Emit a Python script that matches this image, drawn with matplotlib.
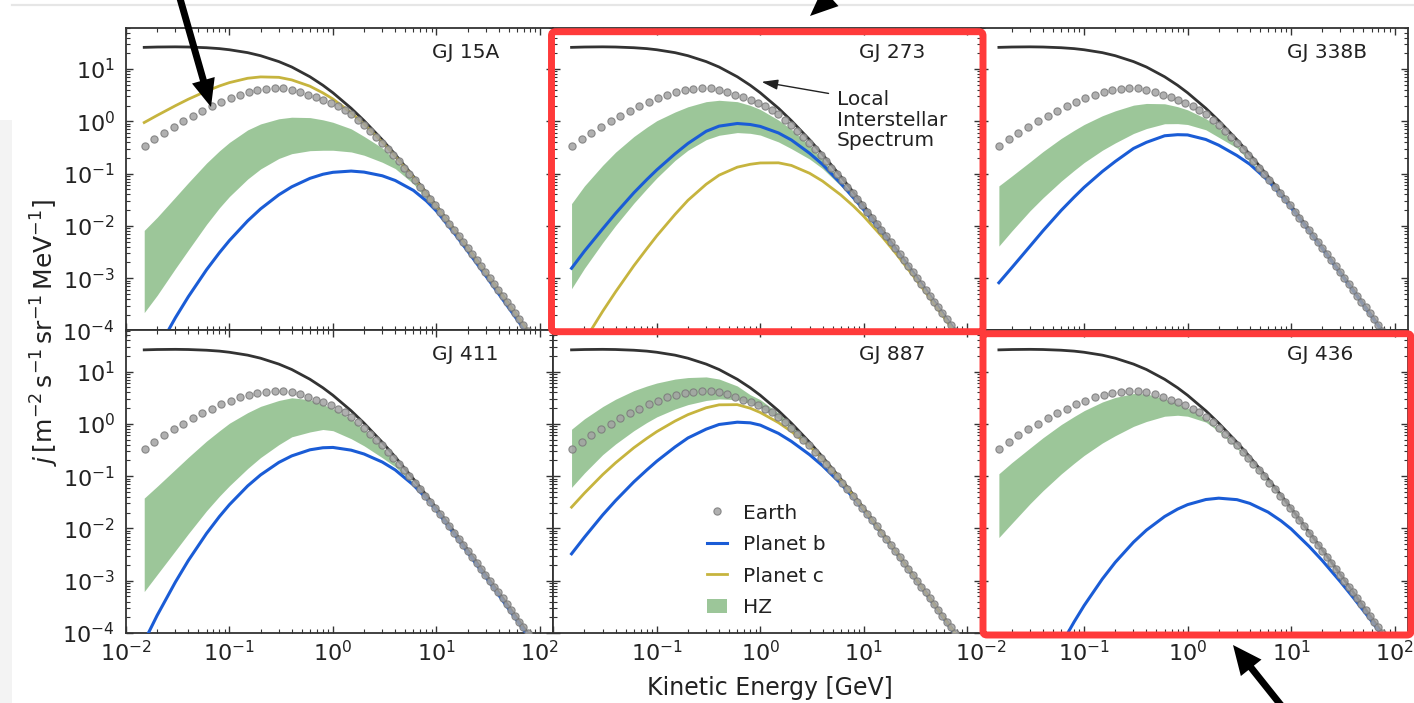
import matplotlib
matplotlib.use('Agg')
import matplotlib.pyplot as plt
from matplotlib.patches import FancyBboxPatch, FancyArrowPatch, Rectangle, ArrowStyle
from matplotlib.lines import Line2D
from matplotlib.transforms import IdentityTransform

# ---------------- data ----------------
energy = [0.015, 0.02, 0.03, 0.04, 0.06, 0.08, 0.1, 0.15, 0.2, 0.3, 0.4, 0.6, 0.8, 1,
          1.5, 2, 3, 4, 6, 8, 10, 15, 20, 30, 40, 60, 80]

lis = [26.0, 26.4, 26.6, 26.4, 25.6, 24.6, 23.4, 20.6, 18.0, 13.9, 10.95, 7.12, 4.90, 3.52,
       1.78, 1.03, 0.444, 0.233, 0.0886, 0.0433, 0.0245, 0.00848, 0.00394, 0.00131,
       0.000599, 0.000196, 0.0000881]

earth_energy = [0.0151, 0.0188, 0.0232, 0.0288, 0.0357, 0.0443, 0.0548, 0.0679, 0.0836, 0.103,
                0.126, 0.155, 0.186, 0.225, 0.273, 0.331, 0.399, 0.480, 0.573, 0.685, 0.805,
                0.950, 1.12, 1.30, 1.50, 1.75, 2.00, 2.28, 2.60, 2.97, 3.40, 3.83, 4.31, 4.86,
                5.47, 6.16, 6.93, 7.8, 8.7, 9.7, 10.8, 12.0, 13.3, 14.8, 16.4, 18.2, 20.1,
                22.2, 24.5, 27.0, 29.8, 32.8, 36.1, 39.7, 43.6, 47.9, 52.6, 57.7, 63.3, 69.4, 76.0]
earth_flux = [0.335, 0.45, 0.60, 0.785, 1.01, 1.27, 1.59, 1.95, 2.35, 2.77, 3.2, 3.6, 3.95, 4.15,
              4.25, 4.25, 4.0, 3.65, 3.25, 2.9, 2.6, 2.25, 1.95, 1.65, 1.36, 1.08, 0.85, 0.65,
              0.50, 0.39, 0.29, 0.223, 0.171, 0.130, 0.099, 0.0752, 0.0561, 0.0424, 0.0325,
              0.0246, 0.0188, 0.0143, 0.01097, 0.00833, 0.00635, 0.00484, 0.00374, 0.00285,
              0.0022, 0.00169, 0.0013, 0.000997, 0.000768, 0.000596, 0.00046, 0.000355,
              0.000276, 0.000214, 0.000165, 0.000128, 0.0000996]

gj15a_hz_hi = [8.2e-3, 0.0146, 0.0355, 0.067, 0.159, 0.273, 0.396, 0.686, 0.893, 1.12, 1.20, 1.18,
               1.07, 0.96, 0.72, 0.515, 0.31, 0.18, 0.075, 0.038, 0.022, 0.0079, 0.0037, 0.00124,
               0.000569, 0.000186, 8.46e-5]
gj15a_hz_lo = [2.2e-4, 4.7e-4, 1.53e-3, 3.45e-3, 0.0107, 0.0222, 0.0366, 0.0789, 0.123, 0.195,
               0.241, 0.275, 0.28, 0.28, 0.26, 0.225, 0.165, 0.125, 0.064, 0.033, 0.0195, 0.0071,
               0.0034, 0.00115, 0.000533, 0.000176, 7.93e-5]
gj15a_b = [1.38e-5, 4.17e-5, 1.75e-4, 4.42e-4, 1.45e-3, 3.08e-3, 5.27e-3, 0.0125, 0.0212, 0.0394,
           0.056, 0.0813, 0.0973, 0.106, 0.112, 0.107, 0.091, 0.074, 0.0478, 0.0301, 0.0193,
           0.00714, 0.00333, 0.00111, 0.000503, 0.000164, 7.4e-5]
gj15a_c = [0.95, 1.30, 1.99, 2.65, 3.8, 4.75, 5.51, 6.67, 7.08, 6.95, 6.2, 4.7, 3.5, 2.68, 1.46,
           0.886, 0.40, 0.214, 0.0833, 0.0411, 0.0235, 0.00823, 0.00382, 0.00128, 0.000587,
           0.000193, 8.72e-5]

gj273_hz_hi = [0.0267, 0.0583, 0.1445, 0.258, 0.512, 0.771, 1.03, 1.51, 1.90, 2.38, 2.53, 2.38,
               2.02, 1.69, 1.06, 0.706, 0.35, 0.19, 0.075, 0.038, 0.0218, 0.0077, 0.0036, 0.00122,
               0.000561, 0.000185, 8.4e-5]
gj273_hz_lo = [6.3e-4, 1.55e-3, 4.8e-3, 0.0102, 0.0272, 0.0514, 0.0828, 0.179, 0.28, 0.446, 0.542,
               0.61, 0.59, 0.547, 0.404, 0.30, 0.19, 0.125, 0.058, 0.032, 0.0193, 0.0071, 0.0034,
               0.00116, 0.000538, 0.000178, 8.1e-5]
gj273_b = [1.55e-3, 3.3e-3, 8.8e-3, 0.0174, 0.043, 0.0769, 0.118, 0.239, 0.378, 0.646, 0.81, 0.91,
           0.87, 0.80, 0.60, 0.44, 0.245, 0.15, 0.065, 0.034, 0.0203, 0.0074, 0.0035, 0.00119,
           0.000551, 0.000182, 8.28e-5]
gj273_c = [2.5e-5, 6.4e-5, 2.33e-4, 5.5e-4, 1.73e-3, 3.66e-3, 6.46e-3, 0.0166, 0.0309, 0.0627,
           0.0935, 0.133, 0.151, 0.160, 0.161, 0.1435, 0.1016, 0.072, 0.0392, 0.0237, 0.0153,
           0.00628, 0.00315, 0.00112, 0.000525, 0.000176, 7.98e-5]

gj338b_hz_hi = [0.0583, 0.090, 0.168, 0.264, 0.471, 0.673, 0.871, 1.28, 1.59, 2.04, 2.20, 2.17,
                1.91, 1.66, 1.13, 0.78, 0.36, 0.19, 0.077, 0.039, 0.0225, 0.0079, 0.0037, 0.00123,
                0.000565, 0.000186, 8.4e-5]
gj338b_hz_lo = [4.12e-3, 8.0e-3, 0.0195, 0.0344, 0.0718, 0.115, 0.163, 0.28, 0.387, 0.586, 0.728,
                0.90, 0.905, 0.87, 0.69, 0.495, 0.31, 0.17, 0.079, 0.0395, 0.0227, 0.0080, 0.0037,
                0.00124, 0.000569, 0.000187, 8.4e-5]
gj338b_b = [8.2e-4, 1.59e-3, 4.1e-3, 8.05e-3, 0.0198, 0.0355, 0.0547, 0.110, 0.171, 0.303, 0.397,
            0.53, 0.556, 0.55, 0.45, 0.35, 0.222, 0.151, 0.0735, 0.0385, 0.0223, 0.00789, 0.0037,
            0.00124, 0.000569, 0.000186, 8.37e-5]

gj411_hz_hi = [0.038, 0.0637, 0.1346, 0.229, 0.468, 0.736, 1.03, 1.64, 2.16, 2.8, 3.15, 2.9, 2.35,
               1.95, 1.25, 0.78, 0.36, 0.185, 0.075, 0.038, 0.022, 0.0078, 0.00365, 0.00122,
               0.00056, 0.000184, 8.35e-5]
gj411_hz_lo = [6.2e-4, 1.31e-3, 3.74e-3, 7.9e-3, 0.0217, 0.0414, 0.0655, 0.14, 0.227, 0.40, 0.565,
               0.70, 0.78, 0.74, 0.52, 0.38, 0.225, 0.151, 0.073, 0.0375, 0.0218, 0.0077, 0.00362,
               0.00121, 0.000556, 0.000183, 8.3e-5]
gj411_b = [6.9e-5, 2.17e-4, 9.4e-4, 2.43e-3, 8.0e-3, 0.0169, 0.0285, 0.065, 0.1057, 0.183, 0.244,
           0.319, 0.349, 0.354, 0.314, 0.265, 0.186, 0.1315, 0.0675, 0.0374, 0.0221, 0.00757,
           0.0035, 0.00117, 0.000532, 0.000174, 7.8e-5]

gj887_hz_hi = [0.79, 1.25, 2.14, 2.96, 4.32, 5.28, 6.04, 7.18, 7.68, 7.9, 7.2, 5.3, 3.6, 2.9, 1.6,
               0.95, 0.41, 0.21, 0.083, 0.041, 0.0235, 0.0082, 0.0038, 0.00127, 0.00058, 0.00019,
               8.55e-5]
gj887_hz_lo = [0.061, 0.115, 0.258, 0.413, 0.74, 1.06, 1.36, 1.92, 2.33, 2.8, 3.0, 2.9, 2.45, 2.05,
               1.25, 0.78, 0.36, 0.195, 0.078, 0.0395, 0.0226, 0.0079, 0.0037, 0.00123, 0.000565,
               0.000186, 8.4e-5]
gj887_b = [3.27e-3, 6.8e-3, 0.0181, 0.0341, 0.0776, 0.131, 0.193, 0.361, 0.537, 0.792, 0.973,
           1.076, 1.046, 0.946, 0.657, 0.462, 0.257, 0.158, 0.072, 0.0377, 0.022, 0.00783,
           0.00368, 0.00123, 0.000564, 0.000184, 8.3e-5]
gj887_c = [0.0255, 0.0474, 0.107, 0.18, 0.349, 0.527, 0.71, 1.13, 1.5, 2.03, 2.31, 2.33, 1.99, 1.65,
           1.055, 0.714, 0.373, 0.213, 0.083, 0.041, 0.0233, 0.0081, 0.00378, 0.00127, 0.00058,
           0.00019, 8.6e-5]

gj436_hz_hi = [0.111, 0.1815, 0.345, 0.542, 0.968, 1.38, 1.79, 2.62, 3.2, 3.8, 3.75, 3.0, 2.45, 2.0,
               1.27, 0.78, 0.37, 0.2, 0.079, 0.0395, 0.0226, 0.0079, 0.0037, 0.00124, 0.000567,
               0.000186, 8.4e-5]
gj436_hz_lo = [6.7e-3, 0.01247, 0.0297, 0.0526, 0.110, 0.176, 0.249, 0.43, 0.594, 0.895, 1.11, 1.40,
               1.46, 1.40, 1.08, 0.72, 0.34, 0.185, 0.075, 0.038, 0.0218, 0.0076, 0.00357, 0.0012,
               0.00055, 0.000181, 8.2e-5]
gj436_b = [1.5e-7, 6.2e-7, 3.86e-6, 1.28e-5, 6.0e-5, 1.63e-4, 3.35e-4, 1.08e-3, 2.25e-3, 5.46e-3,
           9.27e-3, 0.0169, 0.0234, 0.0285, 0.0357, 0.0379, 0.0355, 0.0301, 0.0205, 0.01396,
           0.0098, 0.0045, 0.00244, 0.000956, 0.000473, 0.000169, 7.84e-5]

panel_names = ['GJ 15A', 'GJ 273', 'GJ 338B', 'GJ 411', 'GJ 887', 'GJ 436']
legend_labels = ['Earth', 'Planet b', 'Planet c', 'HZ']

panels = [
    dict(name=panel_names[0], lo=gj15a_hz_lo, hi=gj15a_hz_hi, b=gj15a_b, c=gj15a_c),
    dict(name=panel_names[1], lo=gj273_hz_lo, hi=gj273_hz_hi, b=gj273_b, c=gj273_c),
    dict(name=panel_names[2], lo=gj338b_hz_lo, hi=gj338b_hz_hi, b=gj338b_b, c=None),
    dict(name=panel_names[3], lo=gj411_hz_lo, hi=gj411_hz_hi, b=gj411_b, c=None),
    dict(name=panel_names[4], lo=gj887_hz_lo, hi=gj887_hz_hi, b=gj887_b, c=gj887_c),
    dict(name=panel_names[5], lo=gj436_hz_lo, hi=gj436_hz_hi, b=gj436_b, c=None),
]

# ---------------- styling ----------------
W, H = 1414, 703
LIS_C = '#333333'
BLUE = '#1a5cd6'
YELLOW = '#c6b43e'
GREEN = '#3a8f35'
RED = '#ff3a3a'

fig = plt.figure(figsize=(W / 100, H / 100), dpi=100)
fig.patch.set_facecolor('white')

gs = fig.add_gridspec(2, 3, left=126 / W, right=1408 / W, top=1 - 28 / H, bottom=1 - 633 / H,
                      wspace=0, hspace=0)

axes = []
for i, p in enumerate(panels):
    r, c = divmod(i, 3)
    ax = fig.add_subplot(gs[r, c])
    axes.append(ax)
    ax.set_xscale('log')
    ax.set_yscale('log')
    hz = ax.fill_between(energy, p['lo'], p['hi'], color=GREEN, alpha=0.5, lw=0, zorder=1)
    ax.plot(energy, lis, color=LIS_C, lw=2.0, zorder=3)
    lb, = ax.plot(energy, p['b'], color=BLUE, lw=2.2, zorder=4)
    lc = None
    if p['c'] is not None:
        lc, = ax.plot(energy, p['c'], color=YELLOW, lw=2.0, zorder=4)
    le, = ax.plot(earth_energy, earth_flux, ls='none', marker='o', ms=5.2, mfc='#a3a3a3',
                  mec='#7a7a7a', mew=0.8, alpha=0.85, zorder=5)
    ax.set_xlim(1e-2, 135)
    ax.set_ylim(1e-4, 61)
    ax.text(0.716, 0.92, p['name'], transform=ax.transAxes, ha='left', va='center',
            fontsize=14.5, color='#222222')
    for s in ax.spines.values():
        s.set_color('#333333')
        s.set_linewidth(1.3)
    ax.tick_params(which='both', direction='in', top=True, right=True, color='#333333',
                   labelsize=16, labelcolor='#222222')
    ax.tick_params(which='major', length=5, width=1.0)
    ax.tick_params(which='minor', length=2.6, width=0.8)
    ax.tick_params(axis='y', pad=8)
    ax.tick_params(axis='x', pad=5)
    if r == 0:
        ax.tick_params(labelbottom=False)
    if c != 0:
        ax.tick_params(labelleft=False)
    if i == 4:
        ax.set_xticks([1e-2, 1e-1, 1, 10, 100])
        ax.set_xticklabels(['', r'$10^{-1}$', r'$10^{0}$', r'$10^{1}$', ''])
        ax.set_xlim(1e-2, 135)
        leg = ax.legend([le, lb, lc, hz], legend_labels, loc='upper left',
                        bbox_to_anchor=(0.359, 0.428), frameon=False, fontsize=14.5,
                        handlelength=1.0, handletextpad=0.8, labelspacing=0.62,
                        borderpad=0, borderaxespad=0, numpoints=1)
        for t in leg.get_texts():
            t.set_color('#222222')

# Local Interstellar Spectrum annotation (GJ 273 panel)
ax273 = axes[1]
ax273.text(5.47, 1.05, 'Local\nInterstellar\nSpectrum', ha='left', va='center', fontsize=14.5,
           linespacing=1.1, color='#222222', zorder=6)
ax273.annotate('', xy=(1.03, 5.7), xytext=(4.57, 3.42),
               arrowprops=dict(arrowstyle='-|>,head_length=0.7,head_width=0.22', color='#222222',
                               lw=1.0, mutation_scale=14, shrinkA=0, shrinkB=0), zorder=6)

# axis labels
fig.text(770 / W, 1 - 688 / H, 'Kinetic Energy [GeV]', ha='center', va='center', fontsize=17,
         color='#222222')
fig.text(45 / W, 1 - 332 / H, r'$j\,[\mathrm{m^{-2}\,s^{-1}\,sr^{-1}\,MeV^{-1}}]$', rotation=90,
         ha='center', va='center', fontsize=18, color='#222222')

# ---------------- screenshot overlay annotations (pixel coords) ----------------
ID = IdentityTransform()


def disp(x, y):
    return (x, H - y)


# faint page decorations
fig.add_artist(Line2D([12 / W, 1.0], [1 - 5 / H, 1 - 5 / H], transform=fig.transFigure,
                      color='#e6e6e6', lw=1.6, zorder=0))
fig.add_artist(Rectangle((0, 0), 12 / W, 1 - 120 / H, transform=fig.transFigure,
                         facecolor='#f3f3f3', edgecolor='none', zorder=0))

# red boxes
for (x0, y0, x1, y1) in [(551.5, 31.7, 983, 331.7), (983, 333.7, 1411, 635)]:
    bx, by = disp(x0, y1)
    fig.add_artist(FancyBboxPatch((bx, by), x1 - x0, y1 - y0,
                                  boxstyle='round,pad=0,rounding_size=4', transform=ID,
                                  fill=False, edgecolor=RED, lw=5, zorder=20))

# thick black arrows
arrows = [((177, -12), (211, 107), 20, 17),
          ((885, -52), (810, 16), 20, 17),
          ((1288, 714), (1233, 645), 21, 19)]
for tail, tip, hl, hw in arrows:
    style = ArrowStyle.Simple(head_length=hl, head_width=hw, tail_width=5)
    fig.add_artist(FancyArrowPatch(disp(*tail), disp(*tip), arrowstyle=style, mutation_scale=1,
                                   transform=ID, facecolor='black', edgecolor='none',
                                   shrinkA=0, shrinkB=0, zorder=21))

fig.savefig('out.png', dpi=100)
